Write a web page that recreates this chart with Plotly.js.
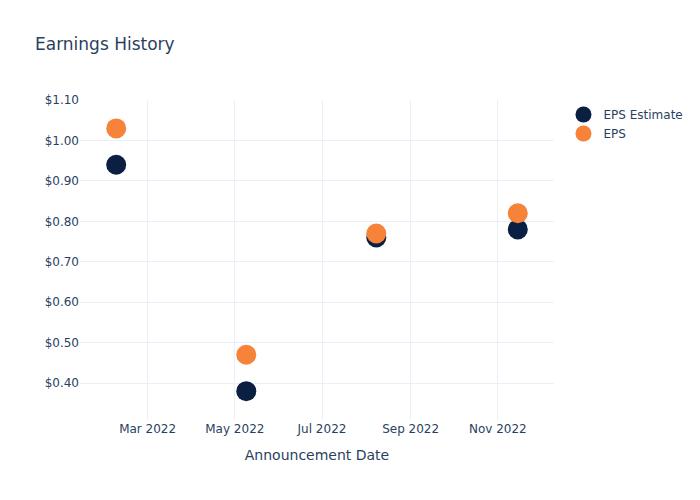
<!DOCTYPE html>
<html>
<head>
<meta charset="utf-8">
<script src="https://cdn.plot.ly/plotly-3.0.1.min.js"></script>
<style>html,body{margin:0;padding:0;background:#fff;}#chart{width:700px;height:500px;}</style>
</head>
<body>
<div id="chart"></div>
<script>
const dates = ["2022-02-07", "2022-05-09", "2022-08-08", "2022-11-15"];
const epsEstimate = [0.94, 0.38, 0.76, 0.78];
const eps = [1.03, 0.47, 0.77, 0.82];

const traces = [
  {x: dates, y: epsEstimate, name: "EPS Estimate", type: "scatter", mode: "markers",
   marker: {color: "#0b1f42", size: 20}},
  {x: dates, y: eps, name: "EPS", type: "scatter", mode: "markers",
   marker: {color: "#f7823a", size: 20}}
];
const layout = {
  width: 700, height: 500,
  font: {family: "'DejaVu Sans', verdana, arial, sans-serif", color: "#2a3f5f", size: 12},
  title: {text: "Earnings History", x: 0.05, xanchor: "left", font: {size: 17}},
  paper_bgcolor: "#fff", plot_bgcolor: "#fff",
  margin: {l: 80, r: 80, t: 100, b: 80},
  xaxis: {type: "date", title: {text: "Announcement Date", font: {size: 14}, standoff: 15}, automargin: true, gridcolor: "#EBF0F8", zeroline: false, showline: false, tickformat: "%b %Y", dtick: "M2", ticks: ""},
  yaxis: {tickformat: "$.2f", dtick: 0.1, gridcolor: "#EBF0F8", zeroline: false, range: [0.3086, 1.1002], automargin: true},
  legend: {font: {size: 12}}
};
Plotly.newPlot("chart", traces, layout, {displayModeBar: false});
</script>
</body>
</html>
